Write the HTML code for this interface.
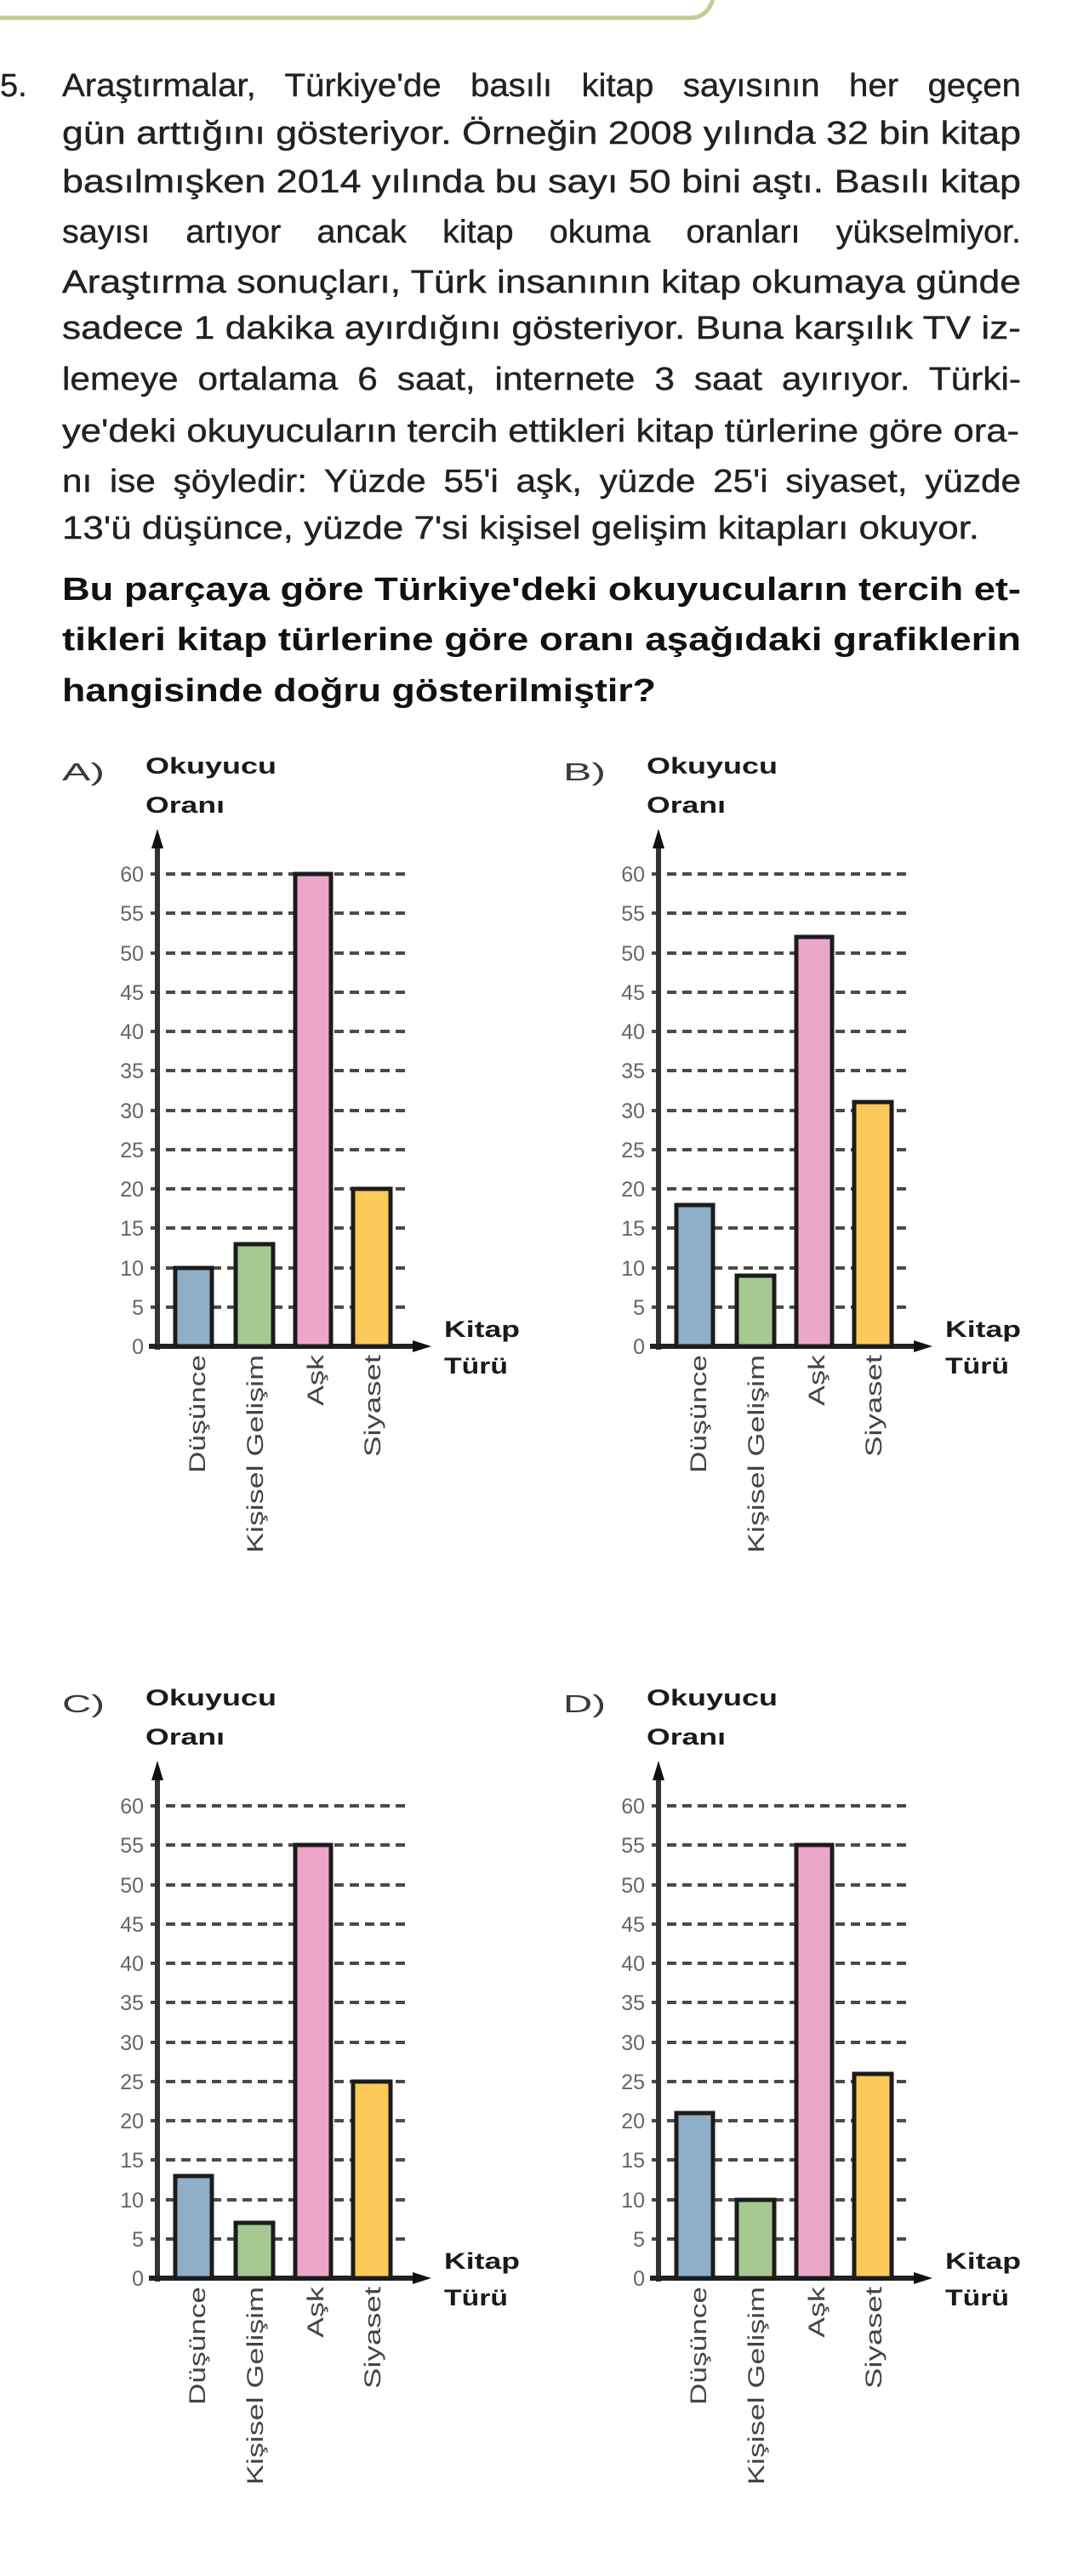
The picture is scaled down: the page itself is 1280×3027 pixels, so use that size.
<!DOCTYPE html>
<html><head><meta charset="utf-8"><style>
html,body{margin:0;padding:0;background:#fff;}
svg{display:block;}
.t{font-family:"Liberation Sans",Arial,sans-serif;font-size:38px;fill:#222;stroke:#222;stroke-width:0.4px;}
.b{font-family:"Liberation Sans",Arial,sans-serif;font-size:38px;font-weight:bold;fill:#111;}
.lab{font-family:"Liberation Sans",Arial,sans-serif;font-size:29px;fill:#3a3a3a;}
.hd{font-family:"Liberation Sans",Arial,sans-serif;font-size:27px;font-weight:bold;fill:#1a1a1a;}
.tk{font-family:"Liberation Sans",Arial,sans-serif;font-size:25px;fill:#666;}
.rl{font-family:"Liberation Sans",Arial,sans-serif;font-size:27px;fill:#444;}
</style></head><body>
<svg width="1280" height="3027" viewBox="0 0 1280 3027" xmlns="http://www.w3.org/2000/svg">
<path d="M0 21 H812 Q830 21 838 0" fill="none" stroke="#c3cd8f" stroke-width="5"/>
<text class="t" x="0" y="113">5.</text>
<text class="t" x="73" y="113" textLength="1127" lengthAdjust="spacingAndGlyphs" word-spacing="22">Araştırmalar, Türkiye'de basılı kitap sayısının her geçen</text>
<text class="t" x="73" y="169" textLength="1127" lengthAdjust="spacingAndGlyphs">gün arttığını gösteriyor. Örneğin 2008 yılında 32 bin kitap</text>
<text class="t" x="73" y="226" textLength="1127" lengthAdjust="spacingAndGlyphs">basılmışken 2014 yılında bu sayı 50 bini aştı. Basılı kitap</text>
<text class="t" x="73" y="285" textLength="1127" lengthAdjust="spacingAndGlyphs" word-spacing="30">sayısı artıyor ancak kitap okuma oranları yükselmiyor.</text>
<text class="t" x="73" y="344" textLength="1127" lengthAdjust="spacingAndGlyphs">Araştırma sonuçları, Türk insanının kitap okumaya günde</text>
<text class="t" x="73" y="398" textLength="1127" lengthAdjust="spacingAndGlyphs">sadece 1 dakika ayırdığını gösteriyor. Buna karşılık TV iz-</text>
<text class="t" x="73" y="458" textLength="1127" lengthAdjust="spacingAndGlyphs" word-spacing="10">lemeye ortalama 6 saat, internete 3 saat ayırıyor. Türki-</text>
<text class="t" x="73" y="519" textLength="1125" lengthAdjust="spacingAndGlyphs">ye'deki okuyucuların tercih ettikleri kitap türlerine göre ora-</text>
<text class="t" x="73" y="578" textLength="1127" lengthAdjust="spacingAndGlyphs" word-spacing="8">nı ise şöyledir: Yüzde 55'i aşk, yüzde 25'i siyaset, yüzde</text>
<text class="t" x="73" y="633" textLength="1078" lengthAdjust="spacingAndGlyphs">13'ü düşünce, yüzde 7'si kişisel gelişim kitapları okuyor.</text>
<text class="b" x="73" y="705" textLength="1127" lengthAdjust="spacingAndGlyphs">Bu parçaya göre Türkiye'deki okuyucuların tercih et-</text>
<text class="b" x="73" y="764" textLength="1127" lengthAdjust="spacingAndGlyphs">tikleri kitap türlerine göre oranı aşağıdaki grafiklerin</text>
<text class="b" x="73" y="824" textLength="698" lengthAdjust="spacingAndGlyphs">hangisinde doğru gösterilmiştir?</text>

<g transform="translate(185,1582)"><text class="lab" x="-112" y="-665" textLength="50" lengthAdjust="spacingAndGlyphs">A)</text></g>
<g transform="translate(774,1582)"><text class="lab" x="-112" y="-665" textLength="50" lengthAdjust="spacingAndGlyphs">B)</text></g>
<g transform="translate(185,2677)"><text class="lab" x="-112" y="-665" textLength="50" lengthAdjust="spacingAndGlyphs">C)</text></g>
<g transform="translate(774,2677)"><text class="lab" x="-112" y="-665" textLength="50" lengthAdjust="spacingAndGlyphs">D)</text></g>

<defs>
<g id="frame">
  <g stroke="#4a4a4a" stroke-width="4" stroke-dasharray="11,7">
    <line x1="-8" y1="-46" x2="292" y2="-46"/><line x1="-8" y1="-92" x2="292" y2="-92"/>
    <line x1="-8" y1="-139" x2="292" y2="-139"/><line x1="-8" y1="-185" x2="292" y2="-185"/>
    <line x1="-8" y1="-231" x2="292" y2="-231"/><line x1="-8" y1="-277" x2="292" y2="-277"/>
    <line x1="-8" y1="-324" x2="292" y2="-324"/><line x1="-8" y1="-370" x2="292" y2="-370"/>
    <line x1="-8" y1="-416" x2="292" y2="-416"/><line x1="-8" y1="-462" x2="292" y2="-462"/>
    <line x1="-8" y1="-509" x2="292" y2="-509"/><line x1="-8" y1="-555" x2="292" y2="-555"/>
  </g>
  <line x1="0" y1="4" x2="0" y2="-590" stroke="#333" stroke-width="6"/>
  <path d="M0 -608 L-7 -585 L7 -585 Z" fill="#111"/>
  <line x1="-10" y1="0" x2="305" y2="0" stroke="#222" stroke-width="6"/>
  <path d="M322 0 L300 -7 L300 7 Z" fill="#111"/>
  <g class="tk" text-anchor="end">
    <text x="-16" y="-546">60</text><text x="-16" y="-500">55</text><text x="-16" y="-453">50</text>
    <text x="-16" y="-407">45</text><text x="-16" y="-361">40</text><text x="-16" y="-315">35</text>
    <text x="-16" y="-268">30</text><text x="-16" y="-222">25</text><text x="-16" y="-176">20</text>
    <text x="-16" y="-130">15</text><text x="-16" y="-83">10</text><text x="-16" y="-37">5</text>
    <text x="-16" y="9">0</text>
  </g>
  <text class="hd" x="-14" y="-673" textLength="154" lengthAdjust="spacingAndGlyphs">Okuyucu</text>
  <text class="hd" x="-14" y="-627" textLength="93" lengthAdjust="spacingAndGlyphs">Oranı</text>
  <text class="hd" x="337" y="-11" textLength="89" lengthAdjust="spacingAndGlyphs">Kitap</text>
  <text class="hd" x="337" y="32" textLength="75" lengthAdjust="spacingAndGlyphs">Türü</text>
  <g class="rl" text-anchor="end">
    <text transform="translate(56,10) rotate(-90)" textLength="139" lengthAdjust="spacingAndGlyphs">Düşünce</text>
    <text transform="translate(124,10) rotate(-90)" textLength="233" lengthAdjust="spacingAndGlyphs">Kişisel Gelişim</text>
    <text transform="translate(195,10) rotate(-90)" textLength="60" lengthAdjust="spacingAndGlyphs">Aşk</text>
    <text transform="translate(262,10) rotate(-90)" textLength="120" lengthAdjust="spacingAndGlyphs">Siyaset</text>
  </g>
</g>
</defs>

<use href="#frame" transform="translate(185,1582)"/>
<use href="#frame" transform="translate(774,1582)"/>
<use href="#frame" transform="translate(185,2677)"/>
<use href="#frame" transform="translate(774,2677)"/>

<g stroke="#1c1c1c" stroke-width="5">
<g transform="translate(185,1582)">
<rect x="21" y="-92" width="43" height="92" fill="#8fafc8"/>
<rect x="92" y="-120" width="44" height="120" fill="#a6c892"/>
<rect x="162" y="-555" width="42" height="555" fill="#eba7c9"/>
<rect x="230" y="-185" width="44" height="185" fill="#fdc95b"/>
</g>
<g transform="translate(774,1582)">
<rect x="21" y="-166" width="43" height="166" fill="#8fafc8"/>
<rect x="92" y="-83" width="44" height="83" fill="#a6c892"/>
<rect x="162" y="-481" width="42" height="481" fill="#eba7c9"/>
<rect x="230" y="-287" width="44" height="287" fill="#fdc95b"/>
</g>
<g transform="translate(185,2677)">
<rect x="21" y="-120" width="43" height="120" fill="#8fafc8"/>
<rect x="92" y="-65" width="44" height="65" fill="#a6c892"/>
<rect x="162" y="-509" width="42" height="509" fill="#eba7c9"/>
<rect x="230" y="-231" width="44" height="231" fill="#fdc95b"/>
</g>
<g transform="translate(774,2677)">
<rect x="21" y="-194" width="43" height="194" fill="#8fafc8"/>
<rect x="92" y="-92" width="44" height="92" fill="#a6c892"/>
<rect x="162" y="-509" width="42" height="509" fill="#eba7c9"/>
<rect x="230" y="-240" width="44" height="240" fill="#fdc95b"/>
</g>
</g>
</svg>
</body></html>
